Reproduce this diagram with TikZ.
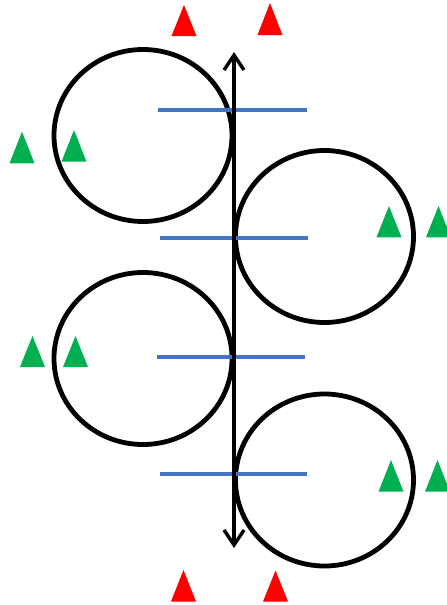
\documentclass[tikz,border=0pt]{standalone}
\usetikzlibrary{arrows.meta}
\definecolor{myred}{HTML}{FF0000}
\definecolor{mygreen}{HTML}{00B050}
\definecolor{myblue}{HTML}{4472C4}
\begin{document}
\begin{tikzpicture}[x=1pt,y=-1pt,
  ring/.style={line width=4.8pt},
  bar/.style={draw=myblue,line width=3.8pt},
  rtri/.style={fill=myred},
  gtri/.style={fill=mygreen},
  barb/.tip={Straight Barb[length=15pt,width=20pt,line width=3.4pt]}]
\useasboundingbox (0,0) rectangle (447,605);
% circles
\draw[ring] (143,135.5) ellipse [x radius=89, y radius=86];
\draw[ring] (324.5,236.5) ellipse [x radius=89, y radius=86];
\draw[ring] (143,358.5) ellipse [x radius=89, y radius=86];
\draw[ring] (324.5,480) ellipse [x radius=89, y radius=86];
% blue bars
\coordinate (b1l) at (158,110); \coordinate (b1r) at (307,110);
\coordinate (b2l) at (160,238); \coordinate (b2r) at (308,238);
\coordinate (b3l) at (157,357); \coordinate (b3r) at (305,357);
\coordinate (b4l) at (160,474); \coordinate (b4r) at (307,474);
\draw[bar] (b1l) -- (b1r);
\draw[bar] (b2l) -- (b2r);
\draw[bar] (b3l) -- (b3r);
\draw[bar] (b4l) -- (b4r);
% arrow
\coordinate (atop) at (234,52);
\coordinate (abot) at (234,548);
\draw[line width=3.4pt,barb-barb] (atop) -- (abot);
% red triangles
\foreach \x/\yt/\yb in {184/5/36, 270/3/35, 183.5/570/601.5, 275.5/570.5/601.5}
  \fill[rtri] (\x-12.5,\yb) -- (\x,\yt) -- (\x+12.5,\yb) -- cycle;
% green triangles
\foreach \x/\yt/\yb in {22/131.7/163.3, 74/130/161.7, 389/206/237.3, 438.5/206/237.3, 32.5/336/367, 75.5/336/367, 391/460/491.7, 437.5/460/491.7}
  \fill[gtri] (\x-12.5,\yb) -- (\x,\yt) -- (\x+12.5,\yb) -- cycle;
\end{tikzpicture}
\end{document}
